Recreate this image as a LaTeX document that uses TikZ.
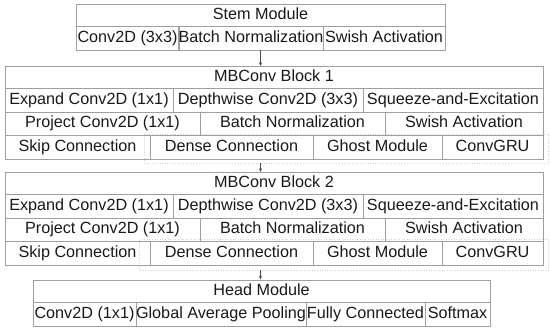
\documentclass[tikz,border=0pt]{standalone}
\usepackage{fontspec}
\setmainfont{Liberation Sans}
\usepackage{tikz}
\usetikzlibrary{arrows.meta, positioning, calc}

\begin{document}
\begin{tikzpicture}[x=1pt, y=-1pt,
        cell/.style={rectangle, draw=gray!75, line width=0.7pt, inner sep=0pt, minimum height=23.5pt, text height=11.6pt, text depth=3.4pt, text=black!90, font=\fontsize{16.2}{19}\selectfont},
        title/.style={cell, minimum height=22pt},
        group/.style={draw=gray!35, dotted, line width=0.6pt},
        arrow/.style={-{Stealth[length=4pt, width=3pt]}, line width=0.6pt, black!70}%
    ]
        \useasboundingbox (0,0) rectangle (550,332);

        % stem
        \node[title, minimum width=369pt] (stem) at (260.5,15) {Stem Module};
        \node[cell, minimum width=103pt, minimum height=24pt] (stemconv) at (127.5,38) {Conv2D (3x3)};
        \node[cell, minimum width=144pt, minimum height=24pt] (stembn) at (251,38) {Batch Normalization};
        \node[cell, minimum width=122pt, minimum height=24pt] (stemswish) at (384,38) {Swish Activation};

        % MBConv block 1
        \node[title, minimum width=538pt] (mb1) at (274,77.5) {MBConv Block 1};
        \node[cell, minimum width=168pt] (expand1) at (89,100.25) {Expand Conv2D (1x1)};
        \node[cell, minimum width=190pt] (depth1) at (268,100.25) {Depthwise Conv2D (3x3)};
        \node[cell, minimum width=180pt] (se1) at (453,100.25) {Squeeze-and-Excitation};
        \node[cell, minimum width=195pt] (project1) at (102.5,123.75) {Project Conv2D (1x1)};
        \node[cell, minimum width=185pt] (bn1) at (292.5,123.75) {Batch Normalization};
        \node[cell, minimum width=158pt] (swish1) at (464,123.75) {Swish Activation};
        \node[cell, minimum width=145pt] (skip1) at (77.5,147.25) {Skip Connection};
        \node[cell, minimum width=163pt] (dense1) at (231.5,147.25) {Dense Connection};
        \node[cell, minimum width=129pt] (ghost1) at (377.5,147.25) {Ghost Module};
        \node[cell, minimum width=101pt] (convgru1) at (492.5,147.25) {ConvGRU};
        \draw[group] ([shift={(-5pt,1pt)}]dense1.north west) rectangle ([shift={(5pt,-4pt)}]convgru1.south east);

        % MBConv block 2
        \node[title, minimum width=538pt] (mb2) at (274,183.5) {MBConv Block 2};
        \node[cell, minimum width=168pt] (expand2) at (89,206.25) {Expand Conv2D (1x1)};
        \node[cell, minimum width=190pt] (depth2) at (268,206.25) {Depthwise Conv2D (3x3)};
        \node[cell, minimum width=180pt] (se2) at (453,206.25) {Squeeze-and-Excitation};
        \node[cell, minimum width=195pt] (project2) at (102.5,229.75) {Project Conv2D (1x1)};
        \node[cell, minimum width=185pt] (bn2) at (292.5,229.75) {Batch Normalization};
        \node[cell, minimum width=158pt] (swish2) at (464,229.75) {Swish Activation};
        \node[cell, minimum width=145pt] (skip2) at (77.5,253.25) {Skip Connection};
        \node[cell, minimum width=163pt] (dense2) at (231.5,253.25) {Dense Connection};
        \node[cell, minimum width=129pt] (ghost2) at (377.5,253.25) {Ghost Module};
        \node[cell, minimum width=101pt] (convgru2) at (492.5,253.25) {ConvGRU};
        \draw[group] ([shift={(-10pt,1.5pt)}]dense2.north west) rectangle ([shift={(5pt,-5pt)}]convgru2.south east);

        % head
        \node[title, minimum width=457pt] (head) at (261.5,291) {Head Module};
        \node[cell, minimum width=103pt, minimum height=24.5pt] (headconv) at (84.5,314.25) {Conv2D (1x1)};
        \node[cell, minimum width=170pt, minimum height=24.5pt] (gap) at (221,314.25) {Global Average Pooling};
        \node[cell, minimum width=119pt, minimum height=24.5pt] (fc) at (365.5,314.25) {Fully Connected};
        \node[cell, minimum width=65pt, minimum height=24.5pt] (softmax) at (457.5,314.25) {Softmax};

        \draw[arrow] (stembn.south -| stem.south) -- (mb1.north -| stem.south);
        \draw[arrow] ([yshift=-4pt]skip1.south -| stem.south) -- (mb2.north -| stem.south);
        \draw[arrow] ([yshift=-5pt]skip2.south -| stem.south) -- (head.north -| stem.south);
    \end{tikzpicture}
\end{document}
